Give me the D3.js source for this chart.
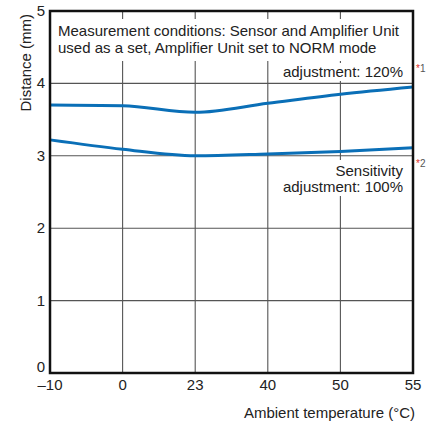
<!DOCTYPE html>
<html><head><meta charset="utf-8">
<script src="https://cdn.jsdelivr.net/npm/d3@7"></script>
<style>body{margin:0;background:#fff}svg{display:block;font-family:"Liberation Sans",Arial,sans-serif}</style>
</head><body><svg id="c" width="438" height="421"></svg>
<script>
const temps = ["–10","0","23","40","50","55"];
const sens120 = [3.70, 3.69, 3.60, 3.725, 3.85, 3.95];
const sens100 = [3.22, 3.09, 3.00, 3.025, 3.06, 3.11];
const yTicks = [0,1,2,3,4,5];

const svg = d3.select("#c");
const L=50, R=413, T=11, B=373;
const x = d3.scalePoint().domain(temps).range([L,R]);
const y = d3.scaleLinear().domain([0,5]).range([B,T]);

// grid
svg.append("g").selectAll("line").data(yTicks.slice(1,5)).join("line")
  .attr("x1",L).attr("x2",R).attr("y1",d=>y(d)).attr("y2",d=>y(d))
  .attr("stroke","#555").attr("stroke-width",1.1);
svg.append("g").selectAll("line").data(temps.slice(1,5)).join("line")
  .attr("x1",d=>x(d)).attr("x2",d=>x(d)).attr("y1",T).attr("y2",B)
  .attr("stroke","#555").attr("stroke-width",1.1);

// white boxes behind text
svg.append("rect").attr("x",55).attr("y",19).attr("width",352).attr("height",42).attr("fill","#fff");
svg.append("rect").attr("x",279).attr("y",63).attr("width",126).attr("height",18).attr("fill","#fff");
svg.append("rect").attr("x",281).attr("y",160).attr("width",124).attr("height",36).attr("fill","#fff");

// lines
const line = d3.line().x((d,i)=>x(temps[i])).y(d=>y(d)).curve(d3.curveMonotoneX);
[sens120,sens100].forEach(s=>{
  svg.append("path").attr("d",line(s)).attr("fill","none")
    .attr("stroke","#0a6fb7").attr("stroke-width",3);
});

// frame
svg.append("rect").attr("x",L).attr("y",T).attr("width",R-L).attr("height",B-T)
  .attr("fill","none").attr("stroke","#111").attr("stroke-width",2.5);

// axes labels
const fs = 15;
svg.append("g").selectAll("text").data(yTicks).join("text")
  .attr("x",45).attr("y",d=>d===0 ? y(d)-1 : y(d)+5).attr("text-anchor","end")
  .attr("font-size",fs).attr("fill","#222").text(d=>d);
svg.append("g").selectAll("text").data(temps).join("text")
  .attr("x",d=>x(d)).attr("y",390).attr("text-anchor","middle")
  .attr("font-size",fs).attr("fill","#222").text(d=>d);
svg.append("text").attr("transform","translate(31,14) rotate(-90)")
  .attr("text-anchor","end").attr("font-size",fs).attr("fill","#222").text("Distance (mm)");
svg.append("text").attr("x",415).attr("y",418).attr("text-anchor","end")
  .attr("font-size",fs).attr("fill","#222").text("Ambient temperature (°C)");

// annotations
const t = svg.append("g").attr("font-size",fs).attr("fill","#222");
t.append("text").attr("x",58).attr("y",36).text("Measurement conditions: Sensor and Amplifier Unit");
t.append("text").attr("x",58).attr("y",53).text("used as a set, Amplifier Unit set to NORM mode");
t.append("text").attr("x",403).attr("y",77).attr("text-anchor","end").text("adjustment: 120%");
t.append("text").attr("x",403).attr("y",176).attr("text-anchor","end").text("Sensitivity");
t.append("text").attr("x",403).attr("y",192).attr("text-anchor","end").text("adjustment: 100%");

const fn = svg.append("g").attr("font-size",10);
[["1",72],["2",167]].forEach(([n,yy])=>{
  const tx = fn.append("text").attr("x",416).attr("y",yy);
  tx.append("tspan").attr("fill","#e0302a").text("*");
  tx.append("tspan").attr("fill","#555").text(n);
});
</script></body></html>
